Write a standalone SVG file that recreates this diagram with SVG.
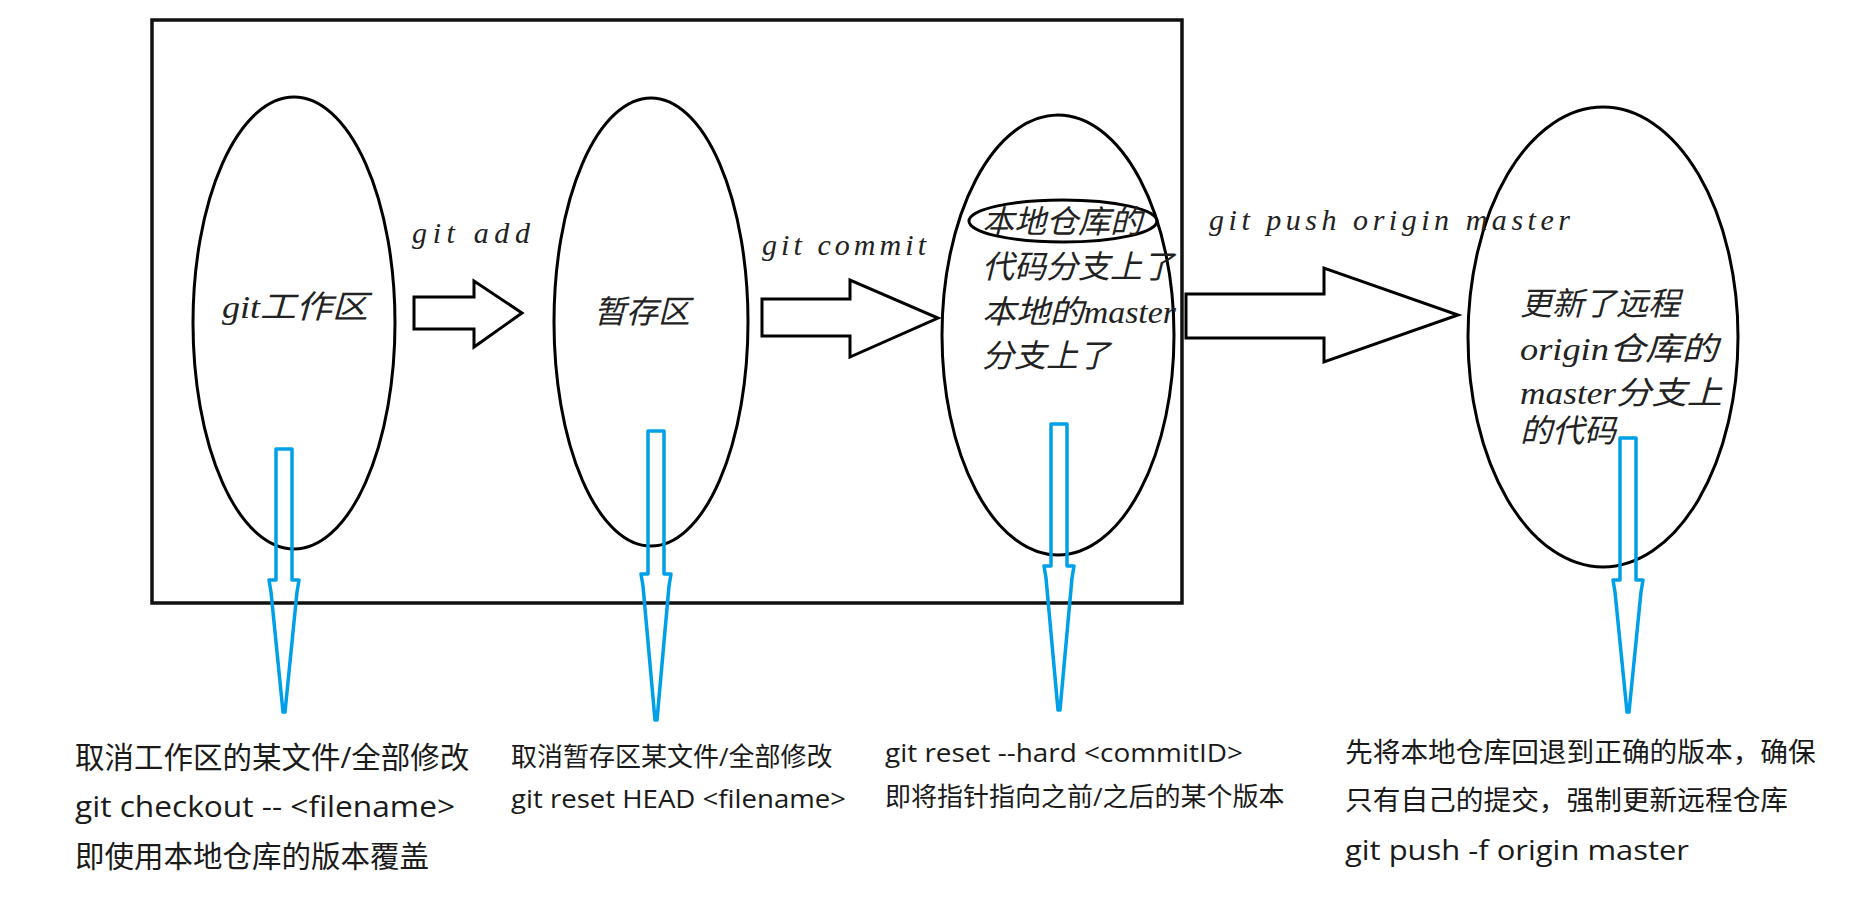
<svg xmlns="http://www.w3.org/2000/svg" width="1862" height="906" viewBox="0 0 1862 906">
<style>
.bg{fill:#ffffff}
.frame{fill:none;stroke:#111;stroke-width:3.5}
.ell{fill:none;stroke:#000;stroke-width:3}
.hollow{fill:#fff;stroke:#000;stroke-width:3;stroke-linejoin:miter}
.blue{fill:none;stroke:#00a0e9;stroke-width:3.5;stroke-linejoin:round}
.lbl{font-family:"Liberation Serif","Noto Sans CJK SC",serif;font-style:italic;font-size:30px;fill:#222}
.in{font-family:"Liberation Serif","Noto Sans CJK SC",serif;font-style:italic;font-size:32px;fill:#222}
.note{font-family:"Open Sans","Noto Sans CJK SC",sans-serif;fill:#1a1a1a}
.big{font-size:29.5px}
.mid{font-size:27.7px}
.small{font-size:26px}
</style>
<rect class="bg" x="0" y="0" width="1862" height="906"/>
<rect class="frame" x="152" y="20" width="1030" height="583"/>

<g id="node-workdir">
<ellipse class="ell" cx="294" cy="323" rx="101" ry="226"/>
<text class="in" x="222" y="318" textLength="146" lengthAdjust="spacingAndGlyphs">git工作区</text>
</g>
<g id="node-stage">
<ellipse class="ell" cx="651" cy="322" rx="97" ry="224"/>
<text class="in" x="594" y="323">暂存区</text>
</g>
<g id="node-local">
<ellipse class="ell" cx="1058" cy="335" rx="116" ry="220"/>
<ellipse class="ell" cx="1063" cy="221" rx="94" ry="21"/>
<text class="in" x="982" y="233">本地仓库的</text>
<text class="in" x="982" y="278">代码分支上了</text>
<text class="in" x="982" y="323" textLength="194" lengthAdjust="spacingAndGlyphs">本地的master</text>
<text class="in" x="982" y="367">分支上了</text>
</g>
<g id="node-remote">
<ellipse class="ell" cx="1603" cy="337" rx="135" ry="230"/>
<text class="in" x="1520" y="315">更新了远程</text>
<text class="in" x="1520" y="360" textLength="198" lengthAdjust="spacingAndGlyphs">origin仓库的</text>
<text class="in" x="1520" y="404" textLength="202" lengthAdjust="spacingAndGlyphs">master分支上</text>
<text class="in" x="1520" y="442">的代码</text>
</g>

<g id="connectors">
<path class="hollow" d="M414,297 H474 V281 L522,313 L474,347 V329 H414 Z"/>
<text class="lbl" x="412" y="243" textLength="118" lengthAdjust="spacing">git add</text>
<path class="hollow" d="M762,299 H850 V280 L938,318 L850,357 V336 H762 Z"/>
<text class="lbl" x="762" y="255" textLength="164" lengthAdjust="spacing">git commit</text>
<path class="hollow" d="M1186,294 H1324 V268 L1458,315 L1324,362 V338 H1186 Z"/>
<text class="lbl" x="1209" y="230" textLength="361" lengthAdjust="spacing">git push origin master</text>

<path class="blue" d="M276,449 H292 V580 L299,580 L297,592 L285,712 L283,712 L271,592 L269,580 L276,580 Z"/>
<path class="blue" d="M648,431 H664 V574 L671,574 L669,586 L657,720 L655,720 L643,586 L641,574 L648,574 Z"/>
<path class="blue" d="M1051,424 H1067 V566 L1074,566 L1072,578 L1060,710 L1058,710 L1046,578 L1044,566 L1051,566 Z"/>
<path class="blue" d="M1620,438 H1636 V580 L1643,580 L1641,592 L1629,712 L1627,712 L1615,592 L1613,580 L1620,580 Z"/>
</g>

<g id="note-workdir">
<text class="note big" x="75" y="768">取消工作区的某文件/全部修改</text>
<text class="note big" x="75" y="817" textLength="380" lengthAdjust="spacingAndGlyphs">git checkout --  &lt;filename&gt;</text>
<text class="note big" x="75" y="867">即使用本地仓库的版本覆盖</text>
</g>
<g id="note-stage">
<text class="note small" x="511" y="766">取消暂存区某文件/全部修改</text>
<text class="note small" x="511" y="808" textLength="335" lengthAdjust="spacingAndGlyphs">git reset HEAD &lt;filename&gt;</text>
</g>
<g id="note-local">
<text class="note small" x="885" y="762" textLength="358" lengthAdjust="spacingAndGlyphs">git reset --hard &lt;commitID&gt;</text>
<text class="note small" x="885" y="806">即将指针指向之前/之后的某个版本</text>
</g>
<g id="note-remote">
<text class="note mid" x="1345" y="762">先将本地仓库回退到正确的版本，确保</text>
<text class="note mid" x="1345" y="810">只有自己的提交，强制更新远程仓库</text>
<text class="note mid" x="1345" y="860" textLength="344" lengthAdjust="spacingAndGlyphs">git push -f origin master</text>
</g>
</svg>
